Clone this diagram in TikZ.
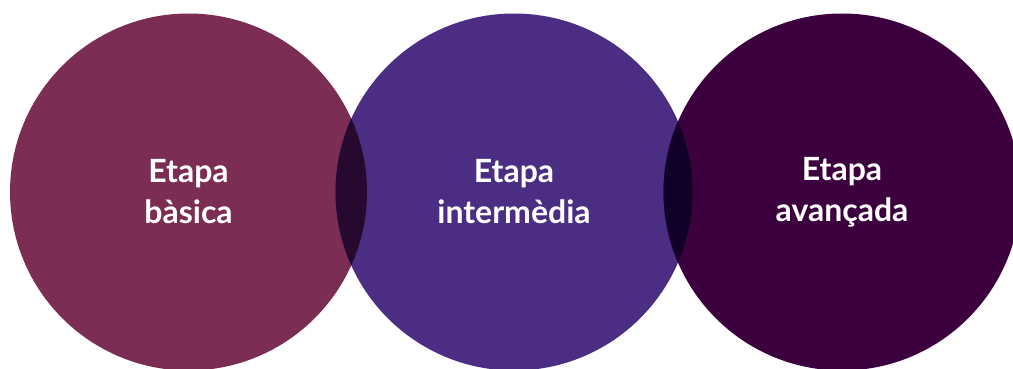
\documentclass[tikz,border=0pt]{standalone}
\usepackage{fontspec}
\setmainfont{Lato}
\usepackage{xcolor}
\definecolor{plum}{HTML}{7C2D53}
\definecolor{indigo}{HTML}{4B2E83}
\definecolor{aubergine}{HTML}{3C003E}
\definecolor{darkplum}{HTML}{27092F}
\definecolor{darkindigo}{HTML}{110126}

\begin{document}
\begin{tikzpicture}[x=1pt,y=1pt,
	stage/.style={circle,minimum size=357pt,inner sep=0pt,text=white,align=center,
		font=\fontsize{32}{41}\selectfont\bfseries}]
	\useasboundingbox (0,0) rectangle (1013,368);
	
	%STAGES
	\node[stage,fill=plum]      (basica)   at (188.5,176) {Etapa\\bàsica};
	\node[stage,fill=indigo]    (inter)    at (514,176)   {Etapa\\intermèdia};
	\node[stage,fill=aubergine] (avancada) at (842,176)   {Etapa\\avançada};
	
	%OVERLAPS
	\begin{scope}
		\clip (basica.center) circle (178.5);
		\fill[darkplum] (inter.center) circle (178.5);
	\end{scope}
	\begin{scope}
		\clip (inter.center) circle (178.5);
		\fill[darkindigo] (avancada.center) circle (178.5);
	\end{scope}
\end{tikzpicture}
\end{document}
